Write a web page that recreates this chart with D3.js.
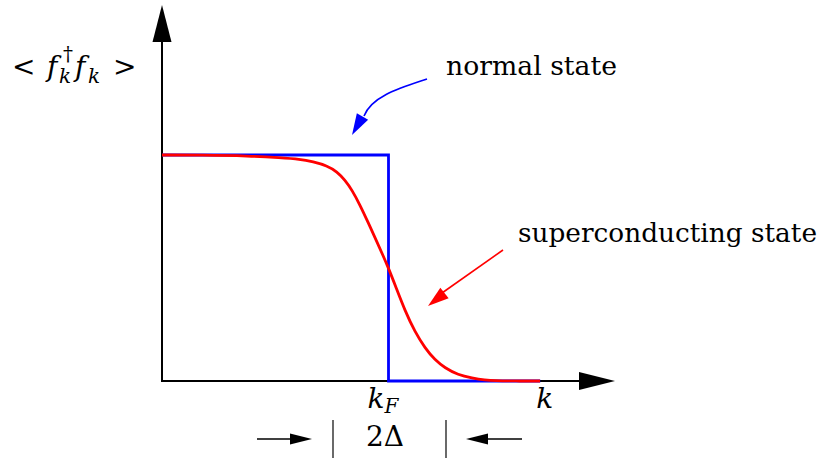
<!DOCTYPE html>
<html>
<head>
<meta charset="utf-8">
<script src="https://cdn.jsdelivr.net/npm/d3@7"></script>
<style>
  html, body { margin: 0; padding: 0; background: #fff; }
  svg { display: block; }
  text { fill: #000; }
</style>
</head>
<body>
<svg id="chart" width="822" height="459"></svg>
<script>
// ---- data (k in units where k_F = 1, occupation in [0,1]) ----
const kF = 1.0;
const kMax = 1.67;
const normalK   = [0, kF, kF, kMax];
const normalOcc = [1, 1, 0, 0];
const superK   = [0, 0.17, 0.389, 0.521, 0.609, 0.667, 0.728, 0.773, 0.808, 0.839, 0.874, 0.909, 0.949, 0.976, 0.998,
                  1.029, 1.073, 1.117, 1.161, 1.205, 1.249, 1.307, 1.369, 1.426, 1.470, 1.56, 1.669];
const superOcc = [1, 1, 0.996, 0.988, 0.982, 0.970, 0.953, 0.926, 0.889, 0.845, 0.779, 0.704, 0.615, 0.555, 0.504,
                  0.425, 0.310, 0.217, 0.146, 0.093, 0.058, 0.027, 0.013, 0.004, 0.001, 0, 0];
const xTickLabels = ["k_F", "k"];
const seriesLabels = ["normal state", "superconducting state"];

const FONT = "'DejaVu Serif', 'Liberation Serif', 'Noto Serif', serif";
const svg = d3.select("#chart").attr("font-family", FONT);
const x = d3.scaleLinear().domain([0, 2]).range([162, 615]);
const y = d3.scaleLinear().domain([0, 1]).range([381, 155]);

function head(g, tip, base, hw, color) {
  const dx = tip[0] - base[0], dy = tip[1] - base[1];
  const L = Math.hypot(dx, dy), nx = -dy / L, ny = dx / L;
  g.append("path")
    .attr("d", `M${tip[0]},${tip[1]} L${base[0] + nx * hw},${base[1] + ny * hw} L${base[0] - nx * hw},${base[1] - ny * hw} Z`)
    .attr("fill", color).attr("stroke", "none");
}

// ---- axes ----
const ax = svg.append("g");
ax.append("line").attr("x1", x(0)).attr("y1", y(0)).attr("x2", x(0)).attr("y2", 40)
  .attr("stroke", "#000").attr("stroke-width", 2);
ax.append("line").attr("x1", x(0) - 1).attr("y1", y(0)).attr("x2", 581).attr("y2", y(0))
  .attr("stroke", "#000").attr("stroke-width", 2);
head(ax, [x(0), 5], [x(0), 42], 9.5, "#000");
head(ax, [615, y(0)], [579, y(0)], 9, "#000");

// ---- series ----
const line = d3.line().x(d => x(d[0])).y(d => y(d[1]));
svg.append("path")
  .datum(d3.zip(normalK, normalOcc))
  .attr("d", line)
  .attr("fill", "none").attr("stroke", "#0000ff").attr("stroke-width", 2.8)
  .attr("stroke-linejoin", "miter");
svg.append("path")
  .datum(d3.zip(superK, superOcc))
  .attr("d", line.curve(d3.curveBasis))
  .attr("fill", "none").attr("stroke", "#ff0000").attr("stroke-width", 2.8);

// ---- y label  < f_k^† f_k > ----
const yl = svg.append("g").attr("font-size", 28);
yl.append("text").attr("x", 12).attr("y", 76).text("<");
yl.append("text").attr("x", 47).attr("y", 76).attr("font-style", "italic").text("f");
yl.append("text").attr("x", 59).attr("y", 83).attr("font-style", "italic").attr("font-size", 20).text("k");
yl.append("text").attr("x", 63).attr("y", 61).attr("font-size", 20).text("†");
yl.append("text").attr("x", 75).attr("y", 76).attr("font-style", "italic").text("f");
yl.append("text").attr("x", 88).attr("y", 83).attr("font-style", "italic").attr("font-size", 20).text("k");
yl.append("text").attr("x", 113).attr("y", 76).text(">");

// ---- x tick labels ----
const kl = svg.append("g").attr("font-size", 28).attr("font-style", "italic");
const kfText = kl.append("text").attr("x", x(kF) - 21).attr("y", 408);
kfText.append("tspan").text(xTickLabels[0].split("_")[0]);
kfText.append("tspan").attr("font-size", 20).attr("dy", 5).text(xTickLabels[0].split("_")[1]);
kl.append("text").attr("x", x(kMax) - 4).attr("y", 408).text(xTickLabels[1]);

// ---- annotations ----
const an = svg.append("g");
an.append("text").attr("x", 446).attr("y", 75).attr("font-size", 26)
  .attr("textLength", 171).attr("lengthAdjust", "spacingAndGlyphs").text(seriesLabels[0]);
an.append("text").attr("x", 518).attr("y", 242).attr("font-size", 26)
  .attr("textLength", 299).attr("lengthAdjust", "spacingAndGlyphs").text(seriesLabels[1]);

// blue curved arrow
an.append("path").attr("d", "M427,79 C400,88 372,96 364,116")
  .attr("fill", "none").attr("stroke", "#0000ff").attr("stroke-width", 1.6);
head(an, [352, 135], [362.5, 116.5], 6.5, "#0000ff");

// red arrow
an.append("line").attr("x1", 503).attr("y1", 250).attr("x2", 442).attr("y2", 293)
  .attr("stroke", "#ff0000").attr("stroke-width", 1.6);
head(an, [428, 306], [444.5, 293], 6.7, "#ff0000");

// 2Δ gap indicator
const gp = svg.append("g");
gp.append("line").attr("x1", 257).attr("y1", 439).attr("x2", 292).attr("y2", 439).attr("stroke", "#000").attr("stroke-width", 1.5);
head(gp, [312, 439], [290, 439], 5.5, "#000");
gp.append("line").attr("x1", 522).attr("y1", 439).attr("x2", 485).attr("y2", 439).attr("stroke", "#000").attr("stroke-width", 1.5);
head(gp, [466, 439], [488, 439], 5.5, "#000");
gp.append("line").attr("x1", 333).attr("y1", 420).attr("x2", 333).attr("y2", 458).attr("stroke", "#444").attr("stroke-width", 1.6);
gp.append("line").attr("x1", 446).attr("y1", 420).attr("x2", 446).attr("y2", 458).attr("stroke", "#444").attr("stroke-width", 1.6);
gp.append("text").attr("x", 366).attr("y", 446).attr("font-size", 28).text("2Δ");
</script>
</body>
</html>
